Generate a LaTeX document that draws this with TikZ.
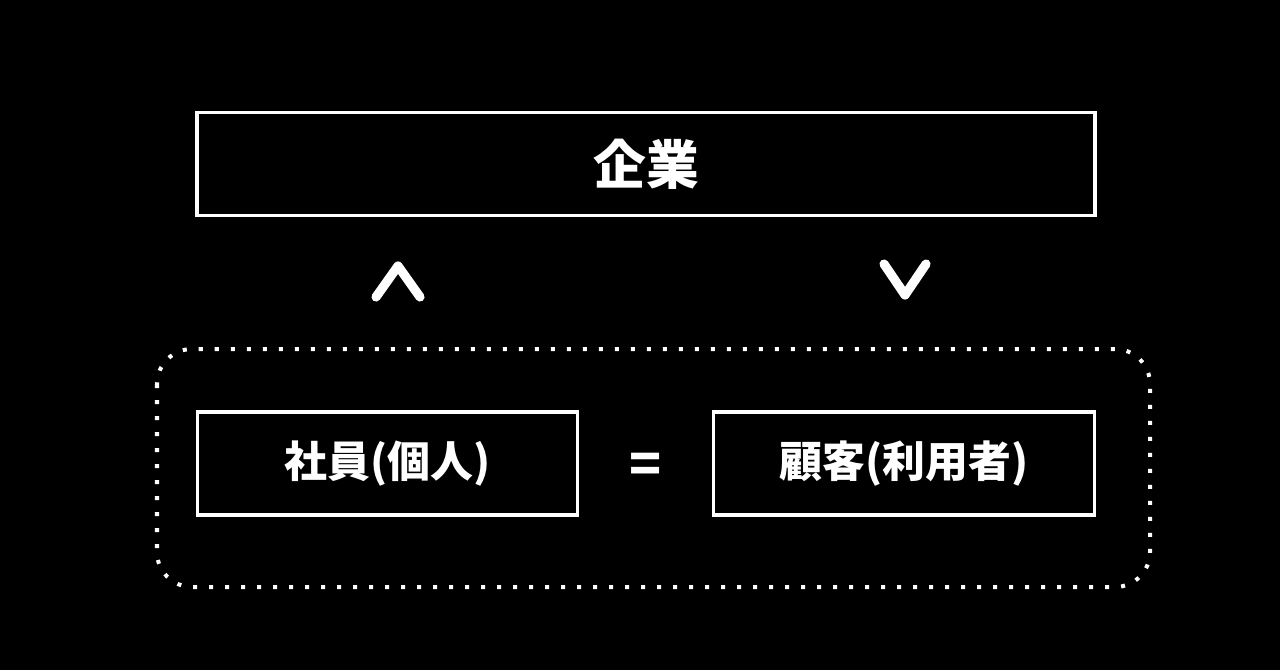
\documentclass[tikz,border=0pt]{standalone}
\usepackage{fontspec}
\newfontfamily\cjk{Noto Sans CJK JP}
\begin{document}
\begin{tikzpicture}[x=0.01cm,y=-0.01cm,
    box/.style={draw=white,line width=1pt,minimum height=1.03cm,inner sep=0pt},
    label/.style={text=white,font=\cjk\bfseries\fontsize{12.2}{14}\selectfont},
    chevron/.style={draw=white,line width=2.6pt,line cap=round,line join=round}]

    \fill[black] (0, 0) rectangle (1280, 670);

    \node[box,minimum width=8.97cm,label,font=\cjk\bfseries\fontsize{15}{18}\selectfont] (kigyo) at (646, 164) {企業};

    \draw[chevron] (376, 297) -- (398, 266) -- (420, 297);
    \draw[chevron] (884, 264) -- (905, 295) -- (926, 264);

    \draw[white,line width=1.14pt,dash pattern=on 1.14pt off 3.41pt,rounded corners=0.35cm] (157, 349) rectangle (1150, 587);

    \node[box,minimum width=3.8cm,label] (shain) at (387.5, 463.5) {社員(個人)};
    \node[box,minimum width=3.81cm,label] (kokyaku) at (904, 463.5) {顧客(利用者)};

    \node[label,font=\cjk\bfseries\fontsize{15}{18}\selectfont] (equal) at (646, 468) {=};

\end{tikzpicture}
\end{document}
